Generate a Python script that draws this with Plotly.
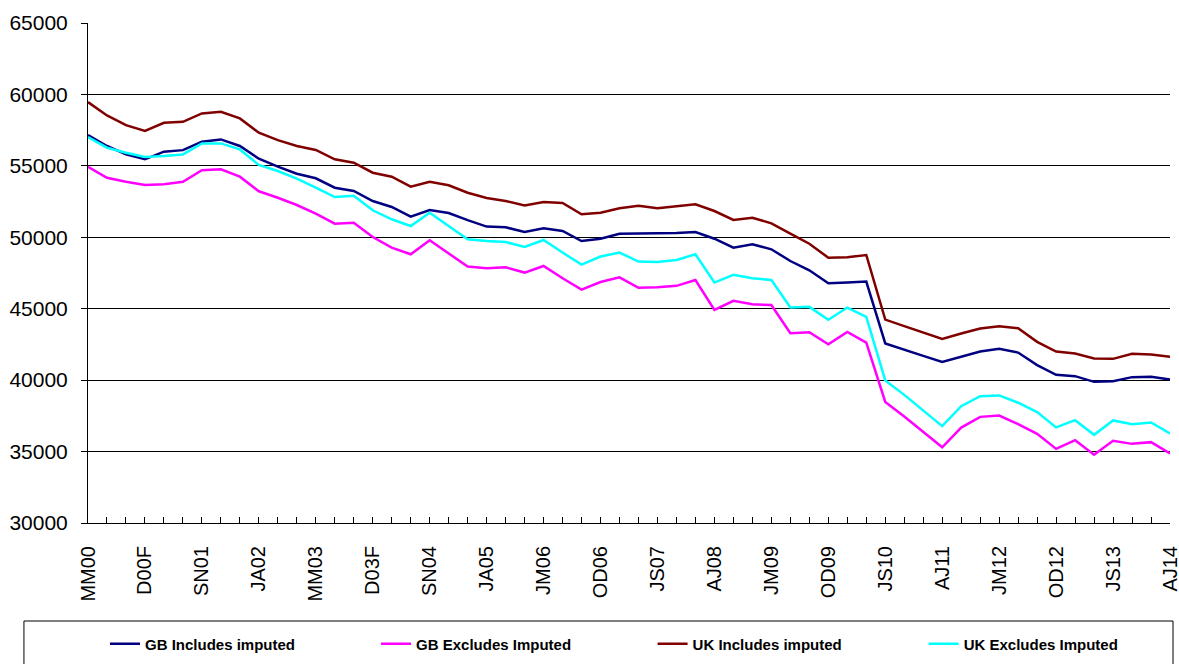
import plotly.graph_objects as go

# quarter labels (only every third one is printed on the axis)
categories = [
    "MM00", "JA00", "SN00", "D00F", "MM01", "JA01", "SN01", "D01F", "MM02", "JA02",
    "SN02", "D02F", "MM03", "JA03", "SN03", "D03F", "MM04", "JA04", "SN04", "D04F",
    "MM05", "JA05", "SN05", "OD05", "JM06", "AJ06", "JS06", "OD06", "JM07", "AJ07",
    "JS07", "OD07", "JM08", "AJ08", "JS08", "OD08", "JM09", "AJ09", "JS09", "OD09",
    "JM10", "AJ10", "JS10", "OD10", "JM11", "AJ11", "JS11", "OD11", "JM12", "AJ12",
    "JS12", "OD12", "JM13", "AJ13", "JS13", "OD13", "JM14", "AJ14",
]

gb_incl = [
    57150, 56390, 55800, 55460, 55990, 56100, 56690, 56850, 56390, 55500,
    54940, 54450, 54130, 53470, 53240, 52540, 52120, 51440, 51910, 51700,
    51200, 50750, 50700, 50370, 50630, 50440, 49740, 49900, 50250, 50250,
    50250, 50300, 50370, 49900, 49270, 49510, 49160, 48340, 47690, 46780,
    46830, 46900, 42570, 42160, 41700, 41270, 41630, 42000, 42190, 41930,
    41050, 40370, 40280, 39880, 39930, 40210, 40230, 40050,
]

gb_excl = [
    54940, 54170, 53890, 53660, 53710, 53890, 54690, 54760, 54240, 53220,
    52770, 52260, 51650, 50950, 51020, 50020, 49270, 48810, 49790, 48860,
    47950, 47830, 47900, 47530, 47990, 47130, 46340, 46870, 47200, 46460,
    46500, 46600, 47010, 44920, 45550, 45310, 45260, 43280, 43350, 42510,
    43380, 42630, 38470, 37450, 36400, 35300, 36680, 37430, 37520, 36920,
    36240, 35190, 35800, 34780, 35750, 35540, 35660, 34870,
]

uk_incl = [
    59460, 58530, 57850, 57450, 58010, 58080, 58670, 58780, 58320, 57320,
    56800, 56390, 56110, 55460, 55220, 54520, 54240, 53540, 53890, 53640,
    53120, 52750, 52540, 52230, 52470, 52400, 51610, 51720, 52030, 52210,
    52040, 52170, 52310, 51840, 51210, 51370, 50980, 50260, 49550, 48570,
    48600, 48760, 44240, 43780, 43330, 42890, 43260, 43610, 43780, 43630,
    42680, 42000, 41860, 41510, 41490, 41840, 41790, 41630,
]

uk_excl = [
    57010, 56270, 55920, 55620, 55690, 55800, 56570, 56570, 56150, 55060,
    54640, 54100, 53470, 52820, 52910, 51890, 51260, 50790, 51720, 50790,
    49860, 49740, 49670, 49320, 49810, 48930, 48090, 48650, 48930, 48300,
    48270, 48410, 48810, 46830, 47370, 47130, 47010, 45080, 45130, 44220,
    45080, 44430, 39980, 38970, 37900, 36780, 38180, 38880, 38930, 38420,
    37760, 36690, 37200, 36170, 37180, 36920, 37040, 36270,
]

series = [
    ("GB Includes imputed", gb_incl, "#000080"),
    ("GB Excludes Imputed", gb_excl, "#FF00FF"),
    ("UK Includes imputed", uk_incl, "#800000"),
    ("UK Excludes Imputed", uk_excl, "#00FFFF"),
]

FONT = "Liberation Sans, Arial, sans-serif"

# one legend per series so the entries sit where the original has them
legend_ids = ["legend", "legend2", "legend3", "legend4"]
legend_x = [0.0157, 0.2662, 0.5218, 0.7723]

fig = go.Figure()
for (name, vals, col), lid in zip(series, legend_ids):
    fig.add_trace(go.Scatter(x=categories, y=vals, mode="lines", name=name,
                             legend=lid, line=dict(color=col, width=2.5)))

ticktext = [c if i % 3 == 0 else "" for i, c in enumerate(categories)]

legends = {}
for lid, lx in zip(legend_ids, legend_x):
    legends[lid] = dict(
        orientation="h", x=lx, xanchor="left",
        yref="container", y=0.0301, yanchor="middle",
        font=dict(family=FONT, size=15, weight="bold", color="black"),
        bgcolor="rgba(0,0,0,0)", borderwidth=0,
    )

fig.update_layout(
    width=1179, height=664,
    margin=dict(l=88, r=9, t=23, b=141),
    paper_bgcolor="white", plot_bgcolor="white",
    font=dict(family=FONT, color="black"),
    showlegend=True,
    xaxis=dict(
        type="category", range=[0, len(categories) - 1], automargin=False,
        tickmode="array", tickvals=categories, ticktext=ticktext,
        tickangle=-90, ticks="inside", ticklen=6, tickcolor="black",
        ticklabelstandoff=14,
        showline=True, linecolor="black", linewidth=1,
        showgrid=False, tickfont=dict(size=20),
    ),
    yaxis=dict(
        range=[30000, 65000], dtick=5000, tick0=30000, tickformat="d",
        automargin=False,
        ticks="outside", ticklen=6, tickcolor="black",
        ticklabelstandoff=9,
        showline=True, linecolor="black", linewidth=1,
        showgrid=True, gridcolor="black", gridwidth=1,
        zeroline=False, tickfont=dict(size=21),
    ),
    shapes=[dict(type="rect", xref="paper", yref="paper",
                 x0=-0.0592, x1=1.0028, y0=-0.196, y1=-0.31,
                 line=dict(color="black", width=1), fillcolor="rgba(0,0,0,0)")],
    **legends,
)

# drop the page's default body margin so the figure fills the window exactly
fig.write_html("out.html", config={"displayModeBar": False},
               post_script="document.body.style.margin='0';")
